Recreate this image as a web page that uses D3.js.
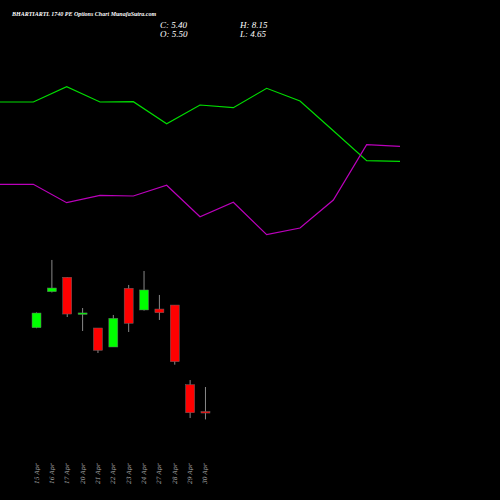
<!DOCTYPE html>
<html>
<head>
<meta charset="UTF-8">
<script src="https://cdn.jsdelivr.net/npm/d3@7"></script>
<style>body{margin:0;background:#000}</style>
</head>
<body>
<svg width="500" height="500"></svg>
<script>
var dates = ['15 Apr','16 Apr','17 Apr','20 Apr','21 Apr','22 Apr','23 Apr','24 Apr','27 Apr','28 Apr','29 Apr','30 Apr']
var open  = [14.55,18.44,20.0,16.05,14.52,12.47,18.81,16.47,16.57,17.0,8.4,5.5]
var close = [16.14,18.84,16.03,16.15,12.11,15.57,15.03,18.63,16.17,10.88,5.37,5.4]
var high  = [16.2,21.87,20.0,16.68,14.52,15.93,19.17,20.68,18.09,17.0,8.9,8.15]
var low   = [14.5,18.36,15.71,14.2,11.82,12.47,14.09,16.4,15.39,10.56,4.8,4.65]
// indicator lines (relative levels)
var upper = [148,148,163.3,148,148.3,126.3,145,142.3,161.7,149,119.3,89.3,88.7]
var lower = [65.7,65.7,47.3,54.7,54,64.7,33.3,47.7,15.3,22,50,105.3,103.7]

var svg = d3.select('svg')
svg.append('rect').attr('width',500).attr('height',500).attr('fill','#000')

var x = d3.scaleBand().domain(dates).range([25, 217]).padding(0.5)
var y = d3.scaleLinear().domain([5.45, 16.25]).range([412, 312])
var lx = d3.scaleLinear().domain([0, upper.length - 1]).range([0, 400])
var ly = d3.scaleLinear().domain([0, 250]).range([250, 0])

var line = d3.line().x((d, i) => lx(i)).y(d => ly(d))
svg.append('path').attr('d', line(upper)).attr('fill','none').attr('stroke','#00dd00').attr('stroke-width',1.2)
svg.append('path').attr('d', line(lower)).attr('fill','none').attr('stroke','#bb00bb').attr('stroke-width',1.2)

var g = svg.append('g')
dates.forEach((d, i) => {
  var cx = x(d) + x.bandwidth() / 2
  var up = close[i] >= open[i]
  g.append('line').attr('x1',cx).attr('x2',cx).attr('y1',y(high[i])).attr('y2',y(low[i])).attr('stroke','#888').attr('stroke-width',1)
  var top = y(Math.max(open[i], close[i])), bot = y(Math.min(open[i], close[i]))
  g.append('rect').attr('x', cx - 4.5).attr('width', 9).attr('y', top).attr('height', Math.max(bot - top, 1.5))
    .attr('fill', up ? '#00ff00' : '#ff0000').attr('stroke','#666').attr('stroke-width',0.5)
  svg.append('text').attr('transform', `translate(${cx + 2},484) rotate(-90)`)
    .attr('fill','#aaa').attr('font-size',6).attr('font-family','DejaVu Serif').attr('font-style','italic')
    .text(d)
})

var f = 'Liberation Serif'
svg.append('text').attr('x',12).attr('y',16).attr('fill','#fff').attr('font-size',6).attr('font-family',f).attr('font-style','italic').attr('font-weight','bold')
  .text('BHARTIARTL  1740  PE Options  Chart MunafaSutra.com')
svg.append('text').attr('x',160).attr('y',28).attr('fill','#fff').attr('font-size',9).attr('font-family',f).attr('font-style','italic').text('C: 5.40')
svg.append('text').attr('x',160).attr('y',37).attr('fill','#fff').attr('font-size',9).attr('font-family',f).attr('font-style','italic').text('O: 5.50')
svg.append('text').attr('x',240).attr('y',28).attr('fill','#fff').attr('font-size',9).attr('font-family',f).attr('font-style','italic').text('H: 8.15')
svg.append('text').attr('x',240).attr('y',37).attr('fill','#fff').attr('font-size',9).attr('font-family',f).attr('font-style','italic').text('L: 4.65')
</script>
</body>
</html>
